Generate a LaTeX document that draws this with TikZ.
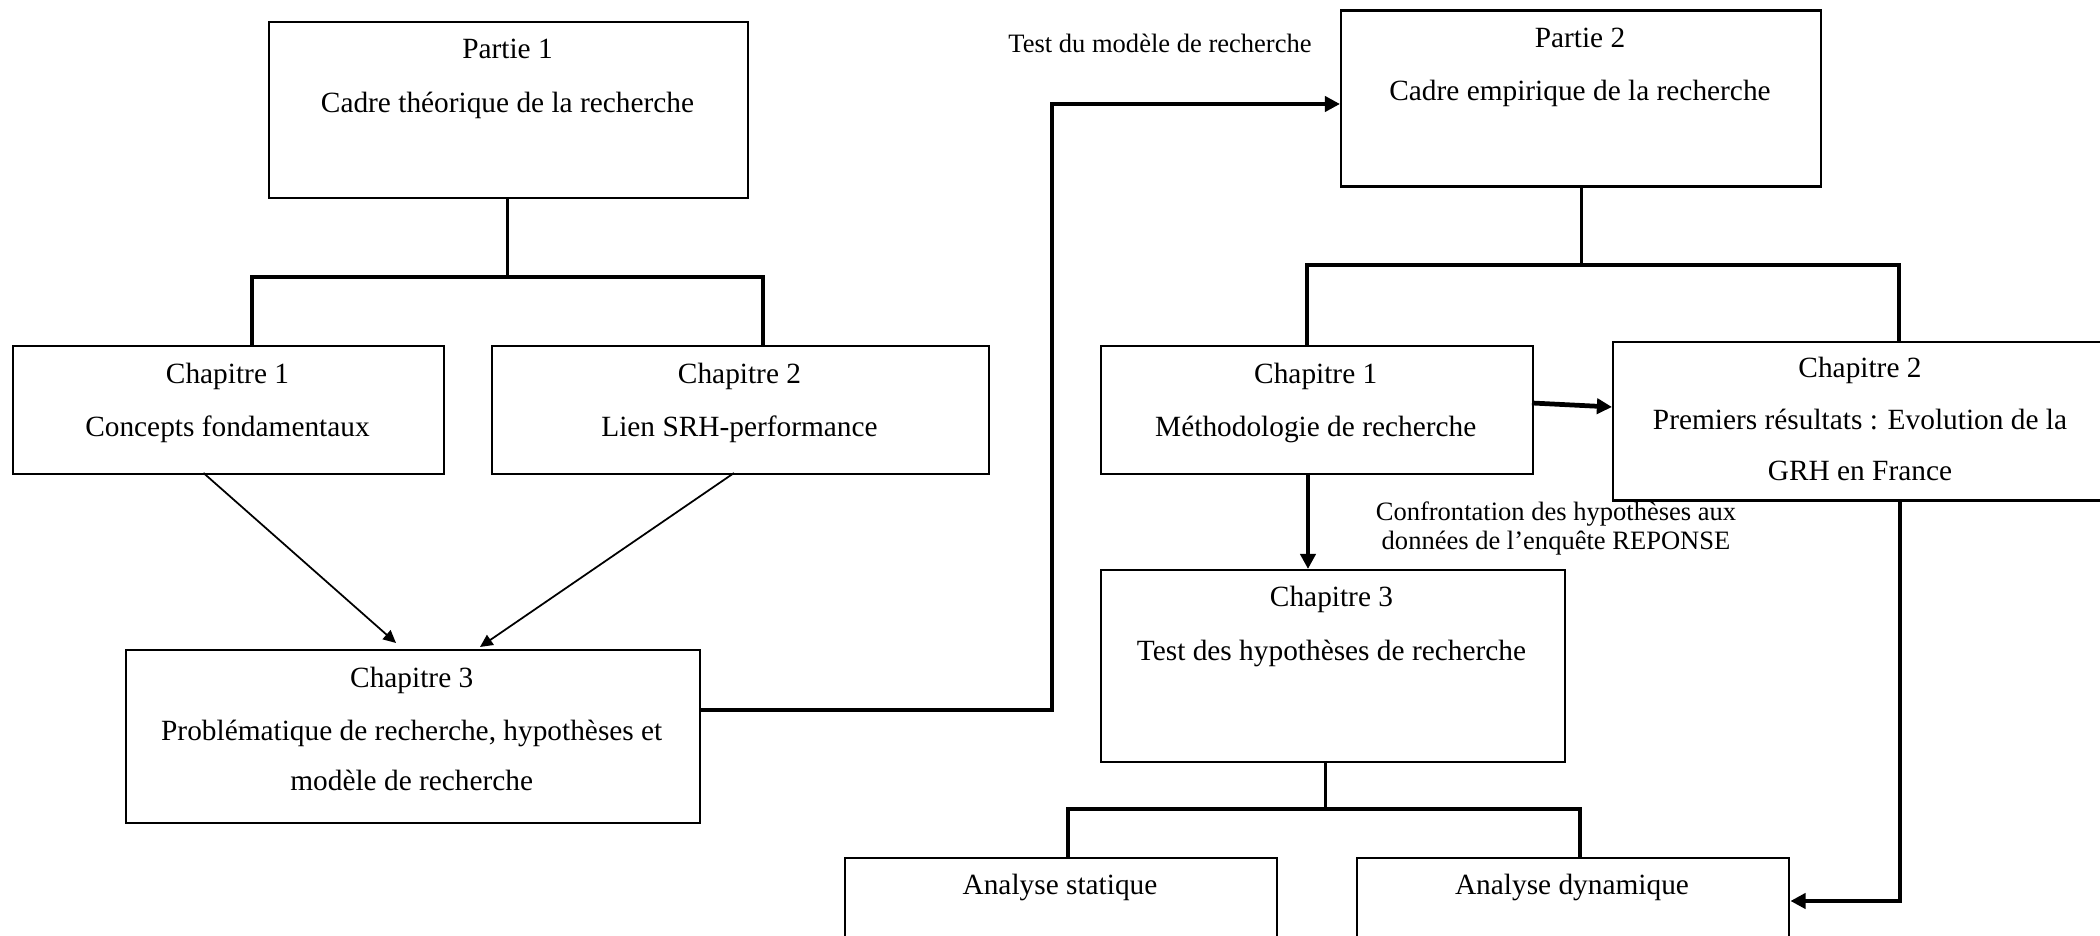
\documentclass[tikz,border=0pt]{standalone}
\usepackage{fontspec}
\setmainfont{Liberation Serif}
\usetikzlibrary{arrows.meta}
\begin{document}
\begin{tikzpicture}[
  box/.style={draw, line width=0.7pt, anchor=north west, inner sep=0pt},
  txt/.style={anchor=base, inner sep=0pt, font=\fontsize{8.35}{10}\selectfont},
  lbl/.style={anchor=base, inner sep=0pt, font=\fontsize{7.55}{8.6}\selectfont},
  stem/.style={line width=0.85pt},
  bar/.style={line width=1.15pt},
  thin/.style={line width=0.5pt, -{Triangle[length=3.6pt,width=3.4pt]}},
  thick/.style={line width=1.35pt, -{Triangle[length=4.3pt,width=4.3pt]}},
]
\useasboundingbox (0,0) rectangle (21,-9.36);
\fill[white] (0,0) rectangle (21,-9.36);

% boxes
\node[box, minimum width=4.79cm, minimum height=1.76cm] (P1) at (2.68,-0.21) {};
\node[box, minimum width=4.31cm, minimum height=1.28cm] (C1L) at (0.12,-3.45) {};
\node[box, minimum width=4.97cm, minimum height=1.28cm] (C2L) at (4.91,-3.45) {};
\node[box, minimum width=5.745cm, minimum height=1.73cm] (C3L) at (1.245,-6.49) {};
\node[box, minimum width=4.80cm, minimum height=1.761cm] (P2) at (13.40,-0.094) {};
\node[box, minimum width=4.325cm, minimum height=1.28cm] (C1R) at (10.995,-3.45) {};
\node[box, minimum width=4.96cm, minimum height=1.585cm] (C2R) at (16.12,-3.41) {};
\node[box, minimum width=4.64cm, minimum height=1.92cm] (C3R) at (10.995,-5.69) {};
\node[box, minimum width=4.32cm, minimum height=1.5cm] (AS) at (8.44,-8.57) {};
\node[box, minimum width=4.32cm, minimum height=1.5cm] (AD) at (13.56,-8.57) {};

% texts
\node[txt] (p1a) at (5.075,-0.59) {Partie 1};
\node[txt] (p1b) at (5.075,-1.13) {Cadre théorique de la recherche};
\node[txt] (c1la) at (2.275,-3.84) {Chapitre 1};
\node[txt] (c1lb) at (2.275,-4.37) {Concepts fondamentaux};
\node[txt] (c2la) at (7.395,-3.84) {Chapitre 2};
\node[txt] (c2lb) at (7.395,-4.37) {Lien SRH-performance};
\node[txt] (c3la) at (4.1175,-6.88) {Chapitre 3};
\node[txt] (c3lb) at (4.1175,-7.41) {Problématique de recherche, hypothèses et};
\node[txt] (c3lc) at (4.1175,-7.91) {modèle de recherche};
\node[txt] (p2a) at (15.80,-0.48) {Partie 2};
\node[txt] (p2b) at (15.80,-1.01) {Cadre empirique de la recherche};
\node[txt] (c1ra) at (13.1575,-3.84) {Chapitre 1};
\node[txt] (c1rb) at (13.1575,-4.37) {Méthodologie de recherche};
\node[txt] (c2ra) at (18.60,-3.78) {Chapitre 2};
\node[txt] (c2rb) at (18.60,-4.30) {Premiers résultats : Evolution de la};
\node[txt] (c2rc) at (18.60,-4.81) {GRH en France};
\node[txt] (c3ra) at (13.315,-6.07) {Chapitre 3};
\node[txt] (c3rb) at (13.315,-6.61) {Test des hypothèses de recherche};
\node[txt] (asa) at (10.60,-8.95) {Analyse statique};
\node[txt] (ada) at (15.72,-8.95) {Analyse dynamique};
\node[lbl] (test) at (11.60,-0.53) {Test du modèle de recherche};
\node[lbl] (confa) at (15.56,-5.21) {Confrontation des hypothèses aux};
\node[lbl] (confb) at (15.56,-5.50) {données de l’enquête REPONSE};

% bracket Partie 1
\coordinate (b1l) at (2.52,-2.77);
\coordinate (b1r) at (7.63,-2.77);
\draw[stem] (P1.south -| 5.076,0) -- (5.076,-2.77);
\draw[bar] (b1l |- C1L.north) -- (b1l) -- (b1r) -- (b1r |- C2L.north);

% diagonal arrows
\draw[thin] (2.035,-4.73) -- (3.96,-6.43);
\draw[thin] (7.34,-4.73) -- (4.80,-6.47);

% Test arrow
\coordinate (tA) at (10.52,-7.10);
\coordinate (tB) at (10.52,-1.04);
\draw[thick] (C3L.east |- tA) -- (tA) -- (tB) -- (tB -| P2.west);

% bracket Partie 2
\coordinate (b2l) at (13.07,-2.65);
\coordinate (b2r) at (18.99,-2.65);
\draw[stem] (P2.south) -- (P2.south |- b2l);
\draw[bar] (b2l |- C1R.north) -- (b2l) -- (b2r) -- (b2r |- C2R.north);

% Ch1R -> Ch2R
\draw[thick] (15.32,-4.03) -- (16.12,-4.07);

% Ch1R -> Ch3R
\draw[thick] (13.08,-4.73) -- (13.08,-5.69);

% bracket Ch3R
\coordinate (b3l) at (10.68,-8.09);
\coordinate (b3r) at (15.80,-8.09);
\draw[stem] (13.25,-7.61) -- (13.25,-8.09);
\draw[bar] (b3l |- AS.north) -- (b3l) -- (b3r) -- (b3r |- AD.north);

% Ch2R -> AD
\coordinate (dA) at (19.00,-9.01);
\draw[thick] (19.00,-4.995) -- (dA) -- (dA -| AD.east);
\end{tikzpicture}
\end{document}
